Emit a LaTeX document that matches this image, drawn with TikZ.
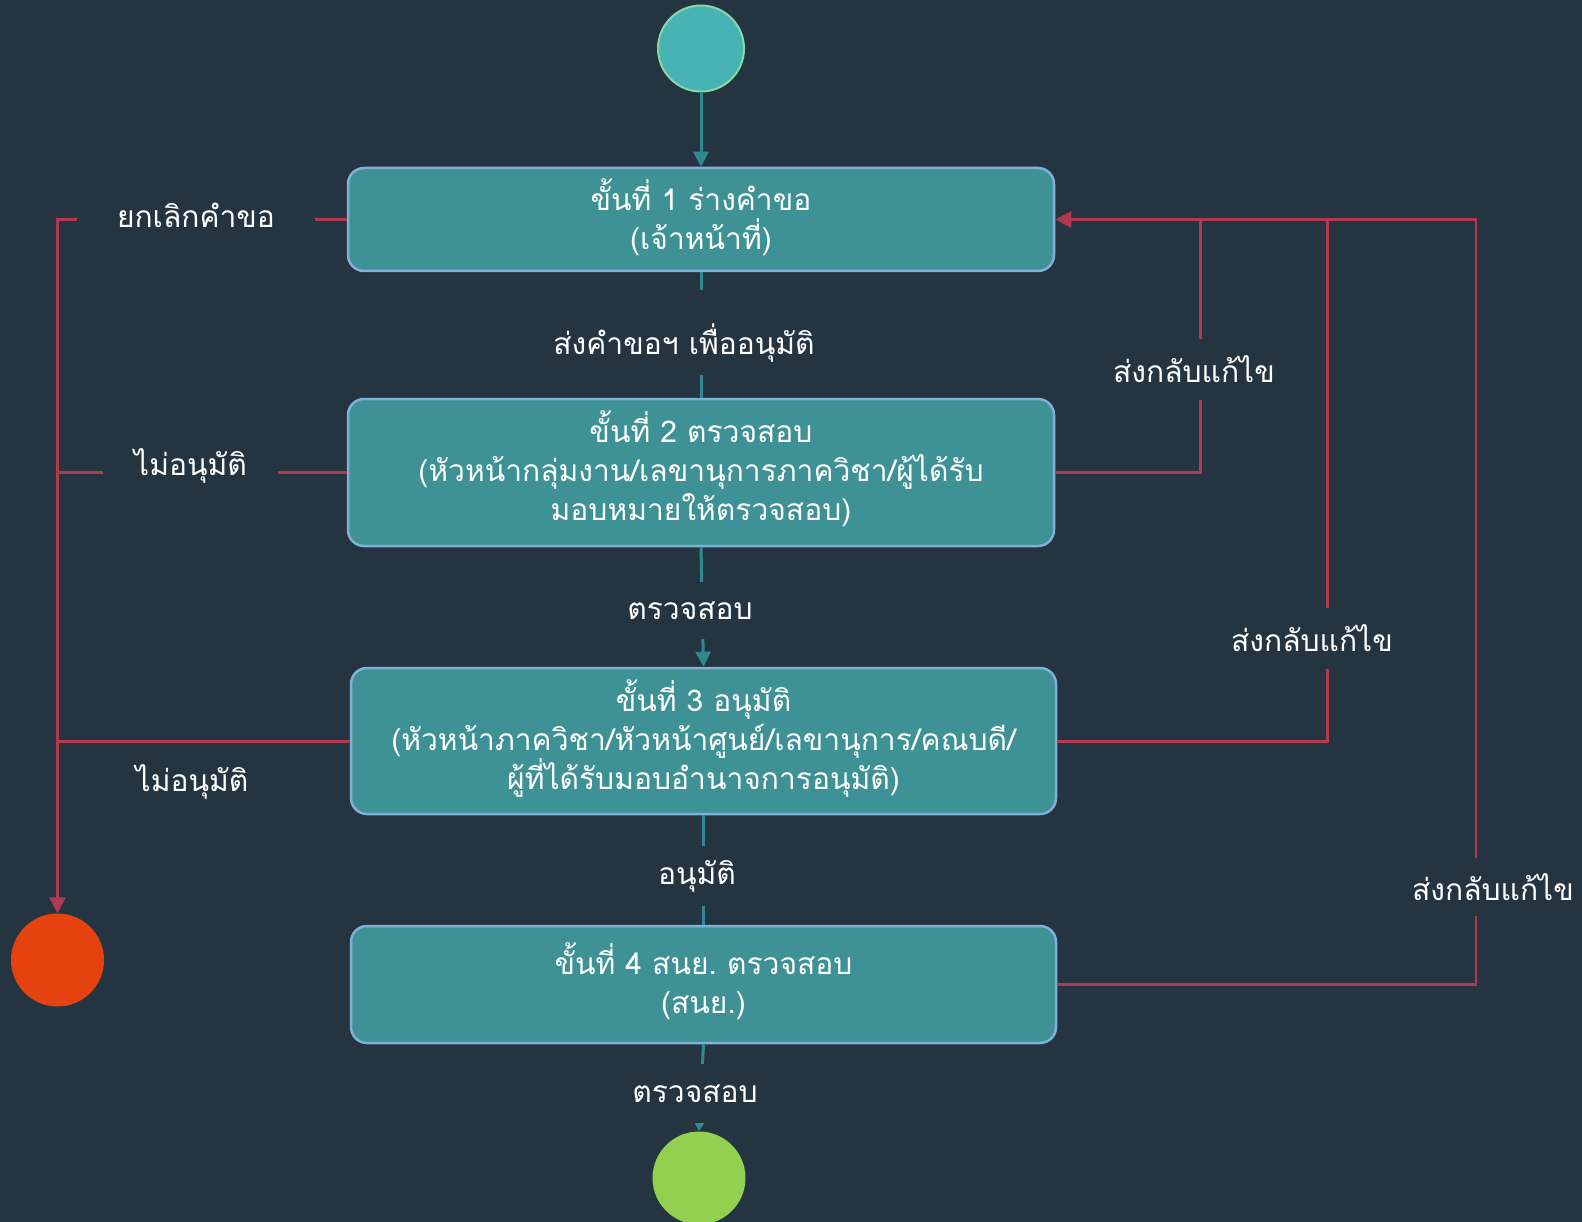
\documentclass[tikz,border=0pt]{standalone}
\usepackage{fontspec}
\newfontfamily\thaifont[Script=Thai]{Loma}
\usetikzlibrary{arrows.meta}
\definecolor{bg}{HTML}{243541}
\definecolor{boxfill}{HTML}{3E9296}
\definecolor{boxline}{HTML}{80B0D6}
\definecolor{startfill}{HTML}{48B3B4}
\definecolor{startline}{HTML}{86D8A8}
\definecolor{tealline}{HTML}{2E8A8E}
\definecolor{redline}{HTML}{B2394F}
\definecolor{endred}{HTML}{E5420F}
\definecolor{endgreen}{HTML}{92D14F}
\tikzset{
  stepbox/.style={draw=boxline, line width=2.5pt, fill=boxfill, rounded corners=16pt, text=white, align=center, inner sep=0pt},
  lbl/.style={fill=bg, text=white, inner sep=0pt, align=center},
  tconn/.style={draw=tealline, line width=3pt},
  rconn/.style={draw=redline, line width=3pt},
  ttip/.style={-{Triangle[length=15pt,width=15pt]}},
  rtip/.style={-{Triangle[length=16pt,width=16pt]}},
}
\frenchspacing
\begin{document}
\begin{tikzpicture}[x=1pt,y=-1pt,font=\thaifont\fontsize{30}{39}\selectfont]
\fill[bg] (0,0) rectangle (1582,1222);
\useasboundingbox (0,0) rectangle (1582,1222);

% states
\node[circle, draw=startline, line width=2pt, fill=startfill, minimum size=86pt, inner sep=0pt] (start) at (701,48.5) {};
\node[circle, fill=endred, minimum size=93pt, inner sep=0pt] (endR) at (57.5,960) {};
\node[circle, fill=endgreen, minimum size=93pt, inner sep=0pt] (endG) at (699,1178) {};

\node[stepbox, minimum width=706pt, minimum height=103pt] (b1) at (701,219.5) {};
\node[stepbox, minimum width=706pt, minimum height=147pt] (b2) at (701,472.5) {};
\node[stepbox, minimum width=705pt, minimum height=146pt] (b3) at (703.5,741) {};
\node[stepbox, minimum width=705pt, minimum height=117pt] (b4) at (703.5,984.5) {};
\node[text=white, align=center, inner sep=0pt] (t1) at (701,217) {ขั้นที่ 1 ร่างคำขอ\\(เจ้าหน้าที่)};
\node[text=white, align=center, inner sep=0pt] (t2) at (701,469) {ขั้นที่ 2 ตรวจสอบ\\(หัวหน้ากลุ่มงาน/เลขานุการภาควิชา/ผู้ได้รับ\\มอบหมายให้ตรวจสอบ)};
\node[text=white, align=center, inner sep=0pt] (t3) at (703.5,739) {ขั้นที่ 3 อนุมัติ\\(หัวหน้าภาควิชา/หัวหน้าศูนย์/เลขานุการ/คณบดี/\\ผู้ที่ได้รับมอบอำนาจการอนุมัติ)};
\node[text=white, align=center, inner sep=0pt] (t4) at (703.5,981.5) {ขั้นที่ 4 สนย. ตรวจสอบ\\(สนย.)};

% junction coordinates
\coordinate (j1) at (1200,219.5);
\coordinate (j2) at (1327,219.5);
\coordinate (j3) at (1476,219.5);

% teal connectors
\draw[tconn, ttip] (start.south) -- (b1.north);
\draw[tconn] (b1.south) -- (b2.north);
\draw[tconn, ttip] (b2.south) -- (b3.north);
\draw[tconn] (b3.south) -- (b4.north);
\draw[tconn, -{Triangle[length=10pt,width=11pt]}] (b4.south) -- (endG.north);

% red connectors
\draw[rconn, rtip] (b1.west) -| (endR.north);
\draw[rconn] (b2.west) -- (b2.west -| endR.north);
\draw[rconn] (b3.west) -- (b3.west -| endR.north);
\draw[rconn] (b2.east) -| (j1);
\draw[rconn] (b3.east) -| (j2);
\draw[redline, line width=2.2pt] (b4.east) -| (j3) -- (j2);
\draw[rconn, rtip] (j2) -- (b1.east);

% labels on teal connectors
\node[lbl, anchor=base, text height=65pt, text depth=20pt] (l1) at (684,355) {ส่งคำขอฯ เพื่ออนุมัติ};
\node[lbl, minimum height=57pt, minimum width=40pt] (l2) at (690,610.5) {ตรวจสอบ};
\node[lbl, minimum height=60pt, minimum width=40pt] (l3) at (697,876) {อนุมัติ};
\node[lbl, minimum height=59pt, minimum width=40pt] (l4) at (695,1093.5) {ตรวจสอบ};

% labels on red connectors
\node[lbl, minimum width=238pt, minimum height=20pt] (l5) at (196,215) {ยกเลิกคำขอ};
\node[lbl, minimum width=175pt, minimum height=20pt] (l6) at (190.5,466) {ไม่อนุมัติ};
\node[text=white, inner sep=0pt] (l7) at (192,782) {ไม่อนุมัติ};
\node[lbl, minimum height=61pt, minimum width=40pt] (l8) at (1194,369.5) {ส่งกลับแก้ไข};
\node[lbl, minimum height=61pt, minimum width=40pt] (l9) at (1312,638.5) {ส่งกลับแก้ไข};
\node[lbl, minimum height=58pt, minimum width=40pt] (l10) at (1493,887) {ส่งกลับแก้ไข};
\end{tikzpicture}
\end{document}
